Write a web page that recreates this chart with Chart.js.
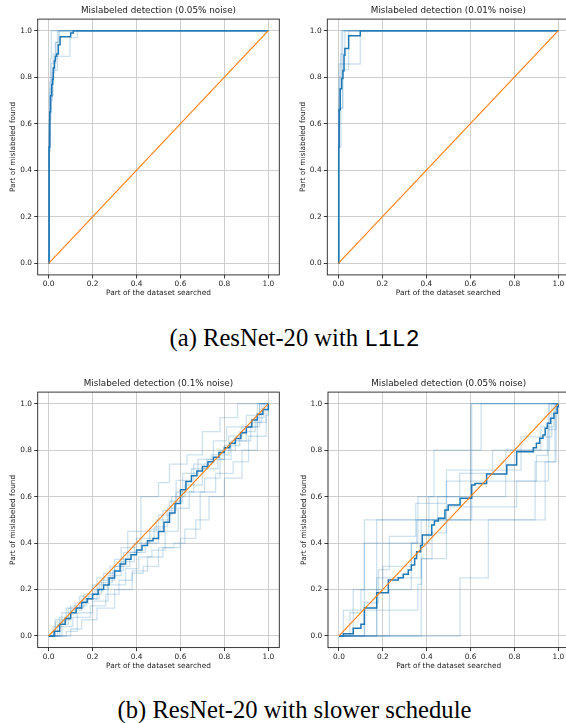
<!DOCTYPE html>
<html>
<head>
<meta charset="utf-8">
<script src="https://cdn.jsdelivr.net/npm/chart.js@4.4.1/dist/chart.umd.min.js"></script>
<style>
  html, body { margin: 0; padding: 0; background: #fff; }
  #fig { position: relative; width: 566px; height: 723px; overflow: hidden; background: #fff; }
  #fig canvas { position: absolute; }
  .cap { position: absolute; left: 0; width: 589px; text-align: center; white-space: nowrap;
         font-family: "Liberation Serif", "Times New Roman", serif; font-size: 24.6px; line-height: 28px; color: #000; }
  .cap span { font-family: "Liberation Mono", monospace; font-size: 23px; }
</style>
</head>
<body>
<div id="fig">
  <div class="cap" style="top:324px">(a) ResNet-20 with <span>L1L2</span></div>
  <div class="cap" style="top:696px">(b) ResNet-20 with slower schedule</div>
</div>
<script>
// shared
const tickValues = [0, 0.2, 0.4, 0.6, 0.8, 1.0];
const diagX = [0, 1];
const diagY = [0, 1];
const xTitle = 'Part of the dataset searched';
const yTitle = 'Part of mislabeled found';

// (a) left: 0.05% noise
const a1Title = 'Mislabeled detection (0.05% noise)';
const a1RunX = [
  [0, 0.001, 0.004, 0.008, 0.012, 1],
  [0, 0.002, 0.006, 0.015, 0.022, 0.033, 0.05, 1],
  [0, 0.003, 0.01, 0.02, 0.04, 0.097, 0.13, 1],
  [0, 0.001, 0.005, 0.012, 0.02, 0.03, 0.045, 1],
  [0, 0.002, 0.008, 0.016, 0.028, 0.04, 1]
];
const a1RunY = [
  [0, 0.5, 0.72, 0.88, 1, 1],
  [0, 0.55, 0.75, 0.8, 0.86, 0.95, 1, 1],
  [0, 0.62, 0.72, 0.83, 0.89, 0.97, 1, 1],
  [0, 0.6, 0.78, 0.86, 0.9, 0.95, 1, 1],
  [0, 0.48, 0.7, 0.82, 0.88, 1, 1]
];
const a1MeanX = [0, 0.002, 0.005, 0.009, 0.014, 0.018, 0.021, 0.026, 0.03, 0.036, 0.044, 0.052, 0.1, 0.112, 1];
const a1MeanY = [0, 0.5, 0.65, 0.72, 0.77, 0.79, 0.84, 0.87, 0.89, 0.9, 0.94, 0.974, 0.99, 1, 1];

// (a) right: 0.01% noise
const a2Title = 'Mislabeled detection (0.01% noise)';
const a2RunX = [
  [0, 0.001, 0.005, 0.014, 1],
  [0, 0.002, 0.02, 1],
  [0, 0.001, 0.003, 0.1, 1],
  [0, 0.003, 0.012, 0.02, 0.047, 1],
  [0, 0.002, 0.006, 0.01, 0.03, 1]
];
const a2RunY = [
  [0, 0.5, 0.75, 1, 1],
  [0, 0.667, 1, 1],
  [0, 0.714, 0.857, 1, 1],
  [0, 0.5, 0.667, 0.833, 1, 1],
  [0, 0.6, 0.8, 0.9, 1, 1]
];
const a2MeanX = [0, 0.002, 0.004, 0.009, 0.015, 0.021, 0.026, 0.03, 0.047, 0.1, 1];
const a2MeanY = [0, 0.5, 0.66, 0.75, 0.795, 0.828, 0.895, 0.924, 0.978, 1, 1];

// (b) left: 0.1% noise
const b1Title = 'Mislabeled detection (0.1% noise)';
const b1RunX = [
  [0, 0.03, 0.08, 0.14, 0.2, 0.25, 0.3, 0.36, 0.42, 0.5, 0.55, 0.63, 0.7, 0.78, 0.86, 1],
  [0, 0.1, 0.15, 0.22, 0.3, 0.38, 0.45, 0.52, 0.6, 0.67, 0.73, 0.8, 0.88, 0.95, 0.99, 1],
  [0, 0.02, 0.06, 0.12, 0.18, 0.24, 0.3, 0.37, 0.44, 0.5, 0.56, 0.62, 0.7, 0.77, 0.83, 0.9, 0.96, 1],
  [0, 0.05, 0.1, 0.17, 0.22, 0.28, 0.33, 0.4, 0.48, 0.54, 0.58, 0.65, 0.72, 0.8, 0.87, 0.94, 0.98, 1],
  [0, 0.08, 0.13, 0.2, 0.27, 0.35, 0.41, 0.47, 0.53, 0.59, 0.64, 0.71, 0.78, 0.85, 0.92, 0.97, 1],
  [0, 0.04, 0.09, 0.16, 0.21, 0.27, 0.33, 0.39, 0.46, 0.52, 0.58, 0.66, 0.74, 0.82, 0.88, 0.95, 1],
  [0, 0.06, 0.11, 0.19, 0.26, 0.32, 0.38, 0.43, 0.5, 0.57, 0.62, 0.69, 0.76, 0.84, 0.91, 0.99, 1],
  [0, 0.03, 0.1, 0.15, 0.23, 0.29, 0.34, 0.42, 0.49, 0.55, 0.61, 0.68, 0.75, 0.81, 0.9, 0.96, 1]
];
const b1RunY = [
  [0, 0.06, 0.12, 0.17, 0.22, 0.27, 0.33, 0.45, 0.6, 0.66, 0.74, 0.78, 0.88, 0.94, 1, 1],
  [0, 0.03, 0.07, 0.12, 0.2, 0.28, 0.34, 0.38, 0.42, 0.5, 0.6, 0.68, 0.8, 0.92, 0.97, 1],
  [0, 0.04, 0.1, 0.14, 0.18, 0.24, 0.3, 0.36, 0.4, 0.52, 0.6, 0.65, 0.72, 0.76, 0.84, 0.9, 1, 1],
  [0, 0.08, 0.13, 0.16, 0.25, 0.3, 0.38, 0.42, 0.47, 0.55, 0.67, 0.72, 0.76, 0.82, 0.88, 0.94, 1, 1],
  [0, 0.02, 0.1, 0.15, 0.22, 0.29, 0.34, 0.37, 0.45, 0.55, 0.62, 0.68, 0.8, 0.84, 0.92, 1, 1],
  [0, 0.05, 0.12, 0.18, 0.2, 0.26, 0.32, 0.4, 0.46, 0.54, 0.62, 0.74, 0.78, 0.86, 0.9, 1, 1],
  [0, 0.04, 0.08, 0.13, 0.18, 0.24, 0.27, 0.3, 0.38, 0.4, 0.46, 0.62, 0.7, 0.75, 0.86, 0.95, 1],
  [0, 0.07, 0.11, 0.16, 0.23, 0.28, 0.36, 0.45, 0.5, 0.58, 0.7, 0.76, 0.84, 0.9, 0.95, 1, 1]
];
const b1MeanX = [0, 0.025, 0.05, 0.075, 0.1, 0.125, 0.15, 0.175, 0.2, 0.225, 0.25, 0.275, 0.3, 0.325, 0.35, 0.375, 0.4,
  0.425, 0.45, 0.475, 0.5, 0.525, 0.55, 0.575, 0.6, 0.625, 0.65, 0.675, 0.7, 0.725, 0.75, 0.775, 0.8, 0.825, 0.85,
  0.875, 0.9, 0.925, 0.95, 0.975, 1];
const b1MeanY = [0, 0.02, 0.05, 0.075, 0.1, 0.12, 0.145, 0.16, 0.18, 0.2, 0.22, 0.25, 0.28, 0.31, 0.33, 0.35, 0.37,
  0.39, 0.41, 0.42, 0.45, 0.49, 0.53, 0.57, 0.63, 0.665, 0.69, 0.71, 0.73, 0.75, 0.77, 0.79, 0.81, 0.83, 0.85,
  0.875, 0.9, 0.93, 0.955, 0.975, 1];

// (b) right: 0.05% noise
const b2Title = 'Mislabeled detection (0.05% noise)';
const b2RunX = [
  [0, 0.552, 0.681, 0.94, 0.985, 1],
  [0, 0.065, 0.116, 0.36, 0.433, 0.648, 1],
  [0, 0.116, 0.605, 1],
  [0, 0.02, 0.36, 0.377, 0.424, 0.49, 0.81, 0.9, 0.95, 0.99, 1],
  [0, 0.116, 0.18, 0.23, 0.35, 0.49, 0.83, 0.97, 1],
  [0, 0.172, 0.6, 1],
  [0, 0.375, 0.49, 0.955, 1],
  [0, 0.172, 0.375, 0.894, 0.99, 1],
  [0, 0.05, 0.1, 0.2, 0.33, 0.354, 0.45, 0.55, 0.7, 0.92, 0.98, 1],
  [0, 0.23, 0.33, 0.41, 0.76, 0.96, 1]
];
const b2RunY = [
  [0, 0.25, 0.5, 0.75, 1, 1],
  [0, 0.2, 0.4, 0.6, 0.8, 1, 1],
  [0, 0.5, 1, 1],
  [0, 0.111, 0.222, 0.333, 0.444, 0.556, 0.667, 0.778, 0.889, 1, 1],
  [0, 0.143, 0.286, 0.429, 0.571, 0.714, 0.857, 1, 1],
  [0, 0.5, 1, 1],
  [0, 0.333, 0.667, 1, 1],
  [0, 0.25, 0.5, 0.75, 1, 1],
  [0, 0.1, 0.2, 0.3, 0.4, 0.5, 0.6, 0.7, 0.8, 0.9, 1, 1],
  [0, 0.2, 0.4, 0.6, 0.8, 1, 1]
];
const b2MeanX = [0, 0.02, 0.065, 0.1, 0.116, 0.172, 0.225, 0.27, 0.293, 0.316, 0.33, 0.345, 0.354, 0.372, 0.38,
  0.423, 0.435, 0.453, 0.483, 0.498, 0.552, 0.605, 0.62, 0.673, 0.765, 0.81, 0.886, 0.9, 0.915, 0.93, 0.94, 0.95,
  0.965, 0.98, 0.995, 1];
const b2MeanY = [0, 0.01, 0.033, 0.05, 0.12, 0.186, 0.241, 0.251, 0.266, 0.284, 0.306, 0.334, 0.363, 0.39, 0.435,
  0.478, 0.495, 0.507, 0.542, 0.564, 0.593, 0.65, 0.657, 0.697, 0.736, 0.793, 0.81, 0.83, 0.851, 0.865, 0.894, 0.916,
  0.937, 0.959, 0.987, 1];

// layout of the four axes boxes on the page: [left, top, right, bottom]
const panels = [
  { box: [37.7, 19.1, 279.3, 274.9], title: a1Title, runX: a1RunX, runY: a1RunY, meanX: a1MeanX, meanY: a1MeanY },
  { box: [327.3, 19.1, 569.3, 274.9], title: a2Title, runX: a2RunX, runY: a2RunY, meanX: a2MeanX, meanY: a2MeanY },
  { box: [37.7, 392.1, 279.3, 647.6], title: b1Title, runX: b1RunX, runY: b1RunY, meanX: b1MeanX, meanY: b1MeanY },
  { box: [328.0, 392.1, 569.3, 647.6], title: b2Title, runX: b2RunX, runY: b2RunY, meanX: b2MeanX, meanY: b2MeanY }
];

const FONT = "'DejaVu Sans', sans-serif";
const TICK_SIZE = 7.4, LABEL_SIZE = 7.4, TITLE_SIZE = 8.8;
const BLUE = '#1f77b4', LIGHT = 'rgba(31,119,180,0.22)', ORANGE = '#ff7f0e';

const toPts = (xs, ys) => xs.map((x, i) => ({ x: x, y: ys[i] }));

// matplotlib-style full frame around the axes
const framePlugin = {
  id: 'frame',
  afterDatasetsDraw(chart) {
    const { ctx, chartArea: a } = chart;
    ctx.save();
    ctx.strokeStyle = '#222';
    ctx.lineWidth = 0.9;
    ctx.strokeRect(a.left, a.top, a.right - a.left, a.bottom - a.top);
    ctx.restore();
  }
};

function makePanel(p) {
  const [bl, bt, br, bb] = p.box;
  const cl = Math.floor(bl - 38), ct = Math.floor(bt - 20);
  const cw = Math.ceil(br + 4 - cl), ch = Math.ceil(bb + 27 - ct);
  const yW = bl - cl, titleH = bt - ct, rightPad = cl + cw - br, xH = ct + ch - bb;
  const tLine = TITLE_SIZE * 1.2, lLine = LABEL_SIZE * 1.2;

  const cv = document.createElement('canvas');
  cv.width = cw; cv.height = ch;
  cv.style.left = cl + 'px'; cv.style.top = ct + 'px';
  cv.style.width = cw + 'px'; cv.style.height = ch + 'px';
  document.getElementById('fig').appendChild(cv);

  const datasets = [
    { data: toPts(diagX, diagY), borderColor: ORANGE, borderWidth: 1.1 },
    { data: toPts(p.meanX, p.meanY), borderColor: BLUE, borderWidth: 1.5, stepped: true }
  ];
  p.runX.forEach((xs, i) => {
    datasets.push({ data: toPts(xs, p.runY[i]), borderColor: LIGHT, borderWidth: 1.3, stepped: true });
  });

  const gridOpts = { color: '#c8c8c8', lineWidth: 0.9, tickColor: '#222', tickLength: 3.5, tickWidth: 0.9 };
  const tickFmt = v => Number(v).toFixed(1);

  new Chart(cv.getContext('2d'), {
    type: 'line',
    data: { datasets: datasets },
    options: {
      responsive: false,
      animation: false,
      devicePixelRatio: 1,
      elements: { point: { radius: 0 }, line: { tension: 0, fill: false } },
      layout: { padding: { left: 0, top: 0, right: rightPad, bottom: 0 } },
      plugins: {
        legend: { display: false },
        tooltip: { enabled: false },
        title: {
          display: true, text: p.title, color: '#222', fullSize: false,
          font: { family: FONT, size: TITLE_SIZE, weight: 'normal', lineHeight: 1.2 },
          padding: { top: titleH - tLine - 2.8, bottom: 2.8 }
        }
      },
      scales: {
        x: {
          type: 'linear', min: -0.05, max: 1.05,
          grid: gridOpts,
          border: { display: false },
          afterBuildTicks: ax => { ax.ticks = tickValues.map(v => ({ value: v })); },
          afterFit: ax => { ax.height = xH; },
          ticks: { color: '#222', padding: 1.5, maxRotation: 0, font: { family: FONT, size: TICK_SIZE }, callback: tickFmt },
          title: {
            display: true, text: xTitle, color: '#222',
            font: { family: FONT, size: LABEL_SIZE, lineHeight: 1.2 },
            padding: { top: 0, bottom: xH - 18.3 - lLine / 2 }
          }
        },
        y: {
          type: 'linear', min: -0.05, max: 1.05,
          grid: gridOpts,
          border: { display: false },
          afterBuildTicks: ax => { ax.ticks = tickValues.map(v => ({ value: v })); },
          afterFit: ax => { ax.width = yW; },
          ticks: { color: '#222', padding: 2.2, font: { family: FONT, size: TICK_SIZE }, callback: tickFmt },
          title: {
            display: true, text: yTitle, color: '#222',
            font: { family: FONT, size: LABEL_SIZE, lineHeight: 1.2 },
            padding: { top: yW - 24.4 - lLine / 2, bottom: 0 }
          }
        }
      }
    },
    plugins: [framePlugin]
  });
}

panels.forEach(makePanel);
</script>
</body>
</html>
